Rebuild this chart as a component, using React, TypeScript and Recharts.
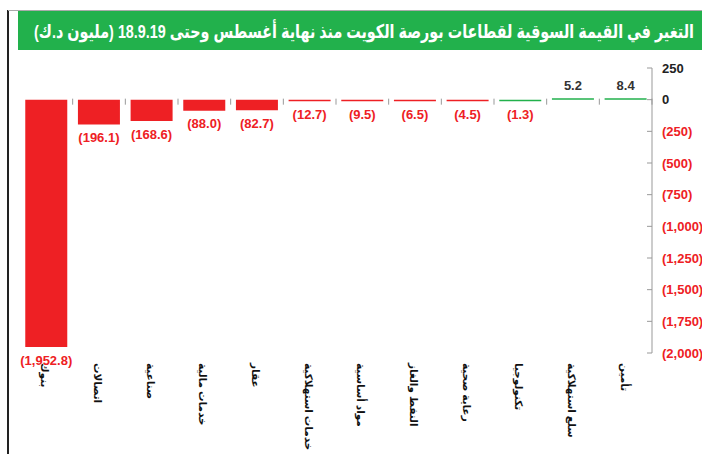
import { BarChart, Bar, XAxis, YAxis, Cell, LabelList, ReferenceLine } from "recharts";

const sectors = [
  "بنوك",
  "اتصالات",
  "صناعية",
  "خدمات مالية",
  "عقار",
  "خدمات استهلاكية",
  "مواد أساسية",
  "النفط والغاز",
  "رعاية صحية",
  "تكنولوجيا",
  "سلع استهلاكية",
  "تأمين",
];
const changes = [-1952.8, -196.1, -168.6, -88.0, -82.7, -12.7, -9.5, -6.5, -4.5, -1.3, 5.2, 8.4];
const barColors = ["red", "red", "red", "red", "red", "red", "red", "red", "red", "green", "green", "green"];
const yTicks = [250, 0, -250, -500, -750, -1000, -1250, -1500, -1750, -2000];
const title = "التغير في القيمة السوقية لقطاعات بورصة الكويت منذ نهاية أغسطس وحتى 18.9.19 (مليون د.ك)";

const RED = "#ee2024";
const GREEN = "#22b14c";
const FONT = "'Liberation Sans', Arial, 'DejaVu Sans', sans-serif";

const data = sectors.map((name, i) => ({ name, value: changes[i], color: barColors[i] === "red" ? RED : GREEN }));

const fmt = (v: number, digits = 0) => {
  const s = Math.abs(v).toLocaleString("en-US", { minimumFractionDigits: digits, maximumFractionDigits: digits });
  return v < 0 ? `(${s})` : s;
};

const YTick = ({ x, y, payload }: any) => {
  const v = payload.value as number;
  return (
    <g>
      <line x1={x - 5} x2={x} y1={y} y2={y} stroke="#999" />
      <text x={x + 10} y={y} dy="0.35em" fill={v < 0 ? RED : "#222"} fontWeight="bold" fontSize={13} fontFamily={FONT}>
        {fmt(v)}
      </text>
    </g>
  );
};

const XTick = ({ x, y, payload }: any) => (
  <text
    x={0}
    y={0}
    transform={`translate(${x - 5},${y - 2}) rotate(90)`}
    textAnchor="start"
    fontSize={10.5}
    fontWeight="bold"
    fill="#111"
    fontFamily={FONT}
  >
    {payload.value}
  </text>
);

const ValueLabel = ({ x, y, width, height, value }: any) => {
  const top = Math.min(y, y + height);
  const bottom = Math.max(y, y + height);
  const neg = value < 0;
  return (
    <text
      x={x + width / 2}
      y={neg ? bottom + 13 : top - 13}
      dy="0.35em"
      textAnchor="middle"
      fill={neg ? RED : "#333"}
      fontWeight="bold"
      fontSize={13}
      fontFamily={FONT}
    >
      {fmt(value, 1)}
    </text>
  );
};

const ZeroLine = ({ x1, y1, x2 }: any) => {
  const n = sectors.length;
  const step = (x2 - x1) / n;
  return (
    <g>
      {Array.from({ length: n }, (_, i) => (
        <line key={i} x1={x1 + i * step} x2={x1 + i * step} y1={y1 - 1} y2={y1 + 5} stroke="#999" />
      ))}
    </g>
  );
};

export default function App() {
  return (
    <div style={{ position: "relative", width: 702, height: 454, overflow: "hidden" }}>
      <style>{"body{margin:0}"}</style>
      <div style={{ position: "absolute", left: 7, top: 10, width: 2, height: 444, background: "#222" }} />
      <div style={{ position: "absolute", left: 8, top: 10, width: 694, height: 1, background: "#aaa" }} />
      <svg style={{ position: "absolute", left: 18, top: 11 }} width={684} height={39}>
        <rect x={0} y={0} width={684} height={39} fill={GREEN} />
        <text
          x={676}
          y={20}
          dy="0.35em"
          direction="rtl"
          textAnchor="start"
          textLength={660}
          lengthAdjust="spacingAndGlyphs"
          fill="#fff"
          fontWeight="bold"
          fontSize={19}
          fontFamily={FONT}
        >
          {title}
        </text>
      </svg>
      <div style={{ position: "absolute", left: 0, top: 0 }}>
        <BarChart width={702} height={454} data={data} margin={{ top: 68, right: 0, bottom: 11, left: 20 }} barCategoryGap="10%">
          <XAxis dataKey="name" axisLine={false} tickLine={false} height={90} tick={<XTick />} interval={0} tickMargin={0} tickSize={12} />
          <YAxis
            orientation="right"
            domain={[-2000, 250]}
            ticks={yTicks}
            width={50}
            stroke="#999"
            tickSize={0}
            tickMargin={0}
            tick={<YTick />}
            interval={0}
          />
          <Bar dataKey="value" isAnimationActive={false} minPointSize={1.5}>
            {data.map((d) => (
              <Cell key={d.name} fill={d.color} />
            ))}
            <LabelList dataKey="value" content={<ValueLabel />} />
          </Bar>
          <ReferenceLine y={0} shape={<ZeroLine />} />
        </BarChart>
      </div>
    </div>
  );
}
